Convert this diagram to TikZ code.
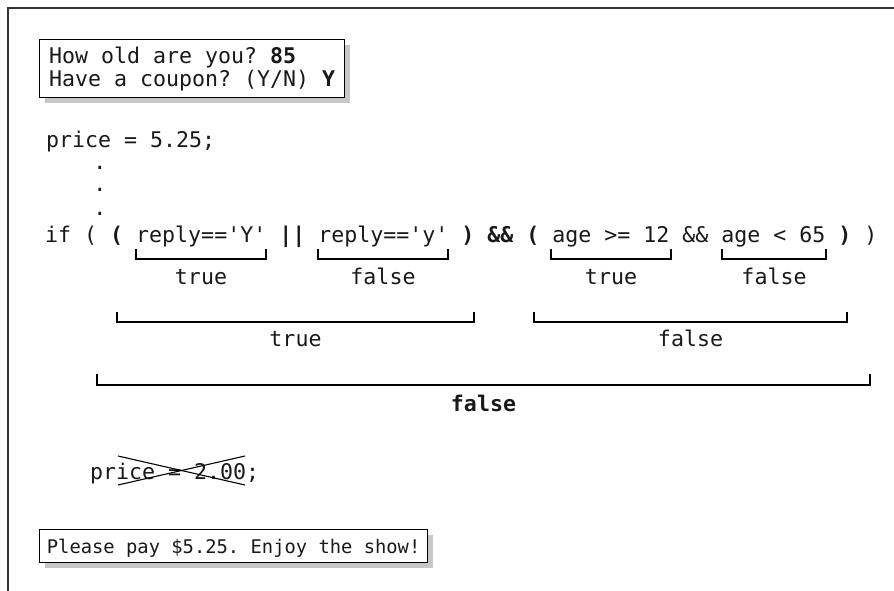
\documentclass[tikz,border=0pt]{standalone}
\usepackage{fontspec}
\setmonofont{DejaVu Sans Mono}
\usetikzlibrary{shadows}
\frenchspacing
\begin{document}
\begin{tikzpicture}[x=1pt,y=-1pt,
  code/.style={font=\ttfamily\fontsize{21.6}{22}\selectfont, inner sep=0pt, anchor=base west, text=black!90},
  lbl/.style={font=\ttfamily\fontsize{21.6}{22}\selectfont, inner sep=0pt, anchor=base, text=black!90},
  brk/.style={draw=black, line width=1.2pt},
  screen/.style={draw=black, line width=1.3pt, fill=white, anchor=north west, text=black!90,
    drop shadow={shadow xshift=5pt, shadow yshift=-5pt, fill=black!22, opacity=1}},
  cross/.style={draw=black, line width=1.1pt}]
\useasboundingbox (0,0) rectangle (894,591);
% frame
\coordinate (fbl) at (8,591);
\coordinate (ftl) at (8,8);
\coordinate (ftr) at (894,8);
\draw[line width=1.8pt, black!80] (fbl) -- (ftl) -- (ftr);

% input screen
\node[screen, font=\ttfamily\fontsize{21.6}{22}\selectfont,
      inner xsep=9.5pt, inner ysep=6pt, text height=18pt, text depth=28pt] (inbox) at (39,39)
  {\begin{tabular}[t]{@{}l@{}}How old are you? \textbf{85}\\Have a coupon? (Y/N) \textbf{Y}\end{tabular}};

% code
\node[code] (p1) at (46,147) {price = 5.25;};
\node[lbl] (d1) at (100,169) {.};
\node[lbl] (d2) at (100,191) {.};
\node[lbl] (d3) at (100,215) {.};
\node[code] (ifl) at (45,242) {if ( \textbf{(} reply=='Y' \textbf{||} reply=='y' \textbf{)} \textbf{\&\&} \textbf{(} age >= 12 \&\& age < 65 \textbf{)} )};

% level 1 brackets
\coordinate (a1) at (136,259); \coordinate (a2) at (266,259);
\coordinate (b1) at (318,259); \coordinate (b2) at (448,259);
\coordinate (c1) at (551,259); \coordinate (c2) at (671,259);
\coordinate (e1) at (722,259); \coordinate (e2) at (826,259);
\draw[brk] (a1) ++(0,-10) -- (a1) -- (a2) -- ++(0,-10);
\draw[brk] (b1) ++(0,-10) -- (b1) -- (b2) -- ++(0,-10);
\draw[brk] (c1) ++(0,-10) -- (c1) -- (c2) -- ++(0,-10);
\draw[brk] (e1) ++(0,-10) -- (e1) -- (e2) -- ++(0,-10);
\node[lbl] (la) at (201,284) {true};
\node[lbl] (lb) at (383,284) {false};
\node[lbl] (lc) at (611,284) {true};
\node[lbl] (le) at (774,284) {false};

% level 2 brackets
\coordinate (f1) at (117,322); \coordinate (f2) at (474,322);
\coordinate (g1) at (534,322); \coordinate (g2) at (847,322);
\draw[brk] (f1) ++(0,-10) -- (f1) -- (f2) -- ++(0,-10);
\draw[brk] (g1) ++(0,-10) -- (g1) -- (g2) -- ++(0,-10);
\node[lbl] (lf) at (295.5,346) {true};
\node[lbl] (lg) at (690.5,346) {false};

% level 3 bracket
\coordinate (h1) at (97,385); \coordinate (h2) at (870,385);
\draw[brk] (h1) ++(0,-11) -- (h1) -- (h2) -- ++(0,-11);
\node[lbl, font=\ttfamily\bfseries\fontsize{21.6}{22}\selectfont] (lh) at (483.5,411) {false};

% crossed-out statement
\node[code] (p2) at (90,479) {price = 2.00;};
\coordinate (x1) at (118,456); \coordinate (x2) at (245,485);
\coordinate (x3) at (118,485); \coordinate (x4) at (245,456);
\draw[cross] (x1) -- (x2);
\draw[cross] (x3) -- (x4);

% output screen
\node[screen, font=\ttfamily\fontsize{18.8}{20}\selectfont,
      inner xsep=7.25pt, inner ysep=6.5pt, text height=17pt, text depth=3pt] (outbox) at (39,529)
  {Please pay \$5.25. Enjoy the show!};
\end{tikzpicture}
\end{document}
